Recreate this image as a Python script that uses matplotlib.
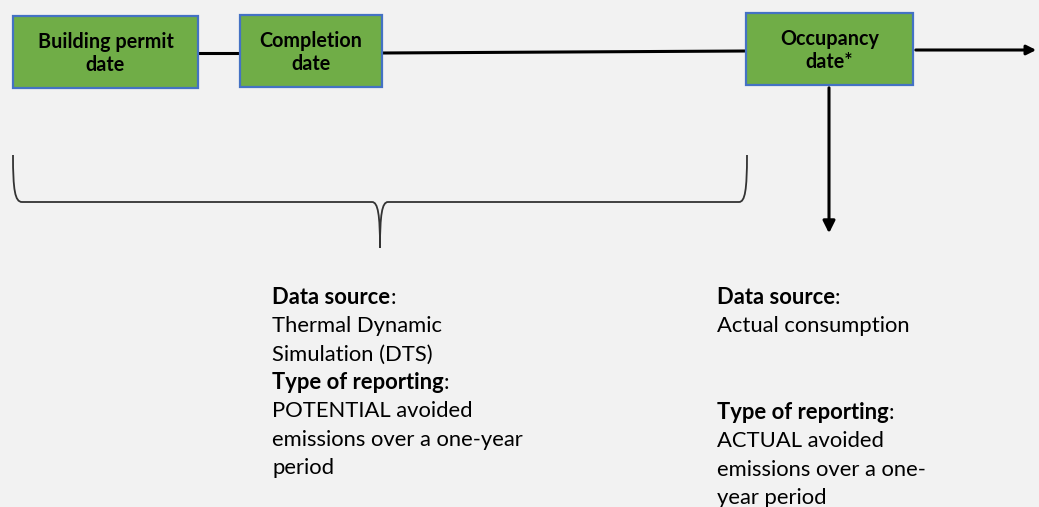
import matplotlib.pyplot as plt
from matplotlib.patches import Rectangle, PathPatch
from matplotlib.path import Path

# milestones on the timeline
box_labels = ["Building permit\ndate", "Completion\ndate", "Occupancy\ndate*"]
box_x = [13, 240, 746]
box_w = [185, 142, 167]
box_y = [16, 15, 13]
box_h = 72

# notes under the timeline: (bold head, plain lines)
left_notes = [("Data source", ["Thermal Dynamic", "Simulation (DTS)"]),
              ("Type of reporting", ["POTENTIAL avoided", "emissions over a one-year", "period"])]
right_notes = [("Data source", ["Actual consumption"]),
               ("Type of reporting", ["ACTUAL avoided", "emissions over a one-", "year period"])]

bg = "#f2f2f2"
green = "#70ad47"
blue = "#4472c4"
font = "Lato"
fs = 15.8
step = 28.4

fig = plt.figure(figsize=(10.39, 5.07), dpi=100, facecolor=bg)
ax = fig.add_axes([0, 0, 1, 1])
ax.set_facecolor(bg)
ax.set_xlim(0, 1039)
ax.set_ylim(507, 0)
ax.axis("off")

# timeline connectors
ax.plot([198, 240], [53, 53], color="black", lw=2.2)
ax.plot([382, 746], [53, 51], color="black", lw=2.2)
ax.annotate("", xy=(1039, 50), xytext=(913, 50),
            arrowprops=dict(arrowstyle="-|>", color="black", lw=2.2, mutation_scale=14))
ax.annotate("", xy=(829, 236), xytext=(829, 85),
            arrowprops=dict(arrowstyle="-|>", color="black", lw=2.2, mutation_scale=18))

for lab, x, w, y in zip(box_labels, box_x, box_w, box_y):
    ax.add_patch(Rectangle((x, y), w, box_h, facecolor=green, edgecolor=blue, lw=1.6, zorder=3))
    ax.text(x + w / 2, y + box_h / 2 + 1.5, lab, ha="center", va="center", family=font,
            weight="bold", fontsize=14.2, linespacing=1.22, zorder=4)

# curly brace under the first two milestones
verts = [(13, 155), (13, 190), (15, 202), (22, 202),
         (372, 202),
         (378, 202), (380, 215), (380, 248),
         (380, 215), (382, 202), (388, 202),
         (739, 202),
         (745, 202), (747, 190), (747, 155)]
codes = [Path.MOVETO, Path.CURVE4, Path.CURVE4, Path.CURVE4,
         Path.LINETO,
         Path.CURVE4, Path.CURVE4, Path.CURVE4,
         Path.CURVE4, Path.CURVE4, Path.CURVE4,
         Path.LINETO,
         Path.CURVE4, Path.CURVE4, Path.CURVE4]
ax.add_patch(PathPatch(Path(verts, codes), facecolor="none", edgecolor="#333333", lw=1.3))


def note(x, y, head, lines):
    t = ax.text(x, y, head, family=font, weight="bold", fontsize=fs, va="baseline")
    ax.annotate(":", xy=(1, 0), xycoords=t, va="bottom", family=font, fontsize=fs)
    for i, line in enumerate(lines):
        ax.text(x, y + step * (i + 1), line, family=font, fontsize=fs, va="baseline")


note(272, 304, *left_notes[0])
note(272, 389, *left_notes[1])
note(717, 304, *right_notes[0])
note(717, 419, *right_notes[1])

fig.savefig("out.png", dpi=100, facecolor=bg)
